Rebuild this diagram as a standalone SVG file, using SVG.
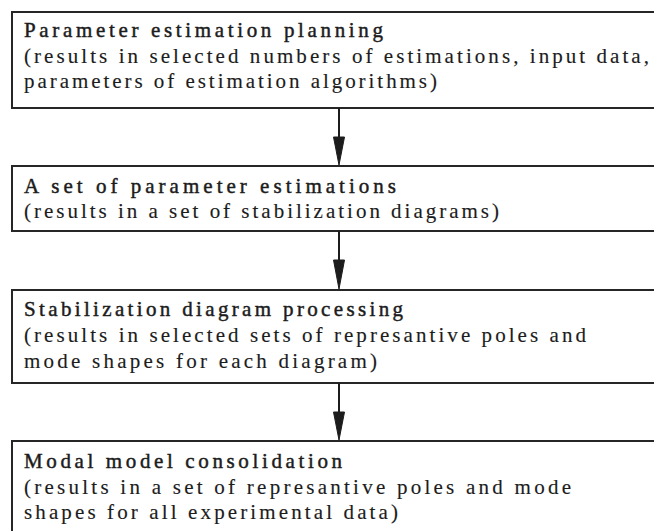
<svg xmlns="http://www.w3.org/2000/svg" width="654" height="531" viewBox="0 0 654 531">
  <style>
    .box { fill: #ffffff; stroke: #262626; stroke-width: 2; }
    .t { font-family: "Liberation Serif", "DejaVu Serif", "Times New Roman", serif; font-size: 21px; fill: #1c1c1c; stroke: #1c1c1c; stroke-width: 0.15; }
    .title { stroke-width: 0.45; }
    .shaft { stroke: #1c1c1c; stroke-width: 2; fill: none; }
    .head { fill: #1c1c1c; stroke: #1c1c1c; stroke-width: 1; }
  </style>
  <rect width="654" height="531" fill="#ffffff"/>

  <g id="node-planning">
    <rect class="box" x="12" y="12" width="660" height="96"/>
    <text class="t title" x="24" y="37" textLength="359" lengthAdjust="spacing">Parameter estimation planning</text>
    <text class="t" x="24" y="63" textLength="625" lengthAdjust="spacing">(results in selected numbers of estimations, input data,</text>
    <text class="t" x="24" y="88" textLength="413" lengthAdjust="spacing">parameters of estimation algorithms)</text>
  </g>

  <g id="node-estimations">
    <rect class="box" x="12" y="166" width="660" height="65"/>
    <text class="t title" x="24" y="193" textLength="372" lengthAdjust="spacing">A set of parameter estimations</text>
    <text class="t" x="24" y="218" textLength="475" lengthAdjust="spacing">(results in a set of stabilization diagrams)</text>
  </g>

  <g id="node-processing">
    <rect class="box" x="12" y="290" width="660" height="93"/>
    <text class="t title" x="24" y="316" textLength="379" lengthAdjust="spacing">Stabilization diagram processing</text>
    <text class="t" x="24" y="342" textLength="562" lengthAdjust="spacing">(results in selected sets of represantive poles and</text>
    <text class="t" x="24" y="368" textLength="353" lengthAdjust="spacing">mode shapes for each diagram)</text>
  </g>

  <g id="node-consolidation">
    <rect class="box" x="12" y="441" width="660" height="110"/>
    <text class="t title" x="24" y="468" textLength="318" lengthAdjust="spacing">Modal model consolidation</text>
    <text class="t" x="24" y="494" textLength="547" lengthAdjust="spacing">(results in a set of represantive poles and mode</text>
    <text class="t" x="24" y="519" textLength="374" lengthAdjust="spacing">shapes for all experimental data)</text>
  </g>

  <g id="connectors">
    <line class="shaft" x1="339" y1="108" x2="339" y2="140"/>
    <polygon class="head" points="333.5,137 344.5,137 339,165"/>
    <line class="shaft" x1="339" y1="231" x2="339" y2="262"/>
    <polygon class="head" points="333.5,260 344.5,260 339,289"/>
    <line class="shaft" x1="339" y1="383" x2="339" y2="414"/>
    <polygon class="head" points="333.5,412 344.5,412 339,440"/>
  </g>
</svg>
